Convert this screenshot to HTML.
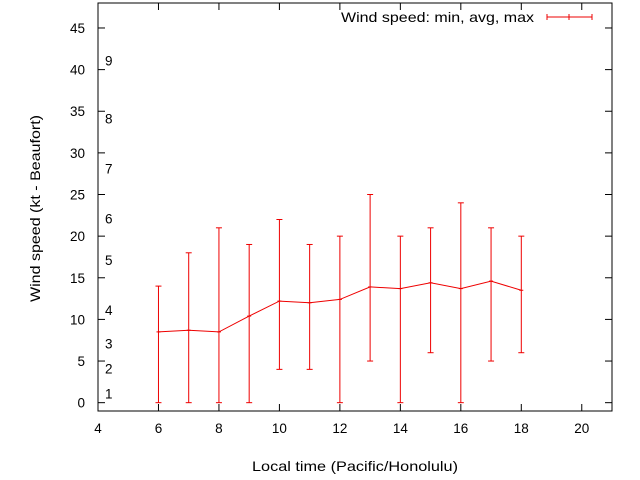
<!DOCTYPE html>
<html><head><meta charset="utf-8"><style>body{margin:0;background:#fff}svg{display:block;font-family:"Liberation Sans",sans-serif}</style></head>
<body>
<svg id="c" width="640" height="480"></svg>
<script>
const hours=[6,7,8,9,10,11,12,13,14,15,16,17,18];
const avgs=[8.5,8.7,8.5,10.4,12.2,12,12.4,13.9,13.7,14.4,13.7,14.6,13.5];
const mins=[0,0,0,0,4,4,0,5,0,6,0,5,6];
const maxs=[14,18,21,19,22,19,20,25,20,21,24,21,20];
const xTicks=[4,6,8,10,12,14,16,18,20];
const yTicks=[0,5,10,15,20,25,30,35,40,45];
const beaufortLevels=[1,4,7,11,17,22,28,34,41];
const beaufortLabels=["1","2","3","4","5","6","7","8","9"];
const L=98,R=612,T=3,B=411,x0=4,x1=21,y0=-1,y1=48;
const X=v=>L+(v-x0)/(x1-x0)*(R-L);
const Y=v=>B-(v-y0)/(y1-y0)*(B-T);
const svg=document.getElementById('c');
function mk(tag,attrs,name,text){const e=document.createElementNS('http://www.w3.org/2000/svg',tag);for(const k in attrs)e.setAttribute(k,attrs[k]);


if(text!==undefined)e.textContent=text;svg.appendChild(e);return e;}
mk('rect',{x:L,y:T,width:R-L,height:B-T,fill:'none',stroke:'#000','stroke-width':1},'plot-frame');
xTicks.forEach(t=>{const x=X(t);
mk('line',{x1:x,x2:x,y1:B,y2:B-7,stroke:'#000'},'x-tick');
mk('line',{x1:x,x2:x,y1:T,y2:T+7,stroke:'#000'},'x-tick-top');
mk('text',{x:x,y:B+22,'text-anchor':'middle','font-size':13.5},'x-tick-label',String(t));});
yTicks.forEach(t=>{const y=Y(t);
mk('line',{x1:L,x2:L+7,y1:y,y2:y,stroke:'#000'},'y-tick');
mk('line',{x1:R,x2:R-7,y1:y,y2:y,stroke:'#000'},'y-tick-right');
mk('text',{x:L-13,y:y+5,'text-anchor':'end','font-size':13.5},'y-tick-label',String(t));});
beaufortLevels.forEach((b,i)=>{mk('text',{x:105,y:Y(b)+4,'font-size':13.5},'beaufort-label',beaufortLabels[i]);});
mk('text',{x:252,y:471,'font-size':14,textLength:206,lengthAdjust:'spacingAndGlyphs'},'x-axis-title','Local time (Pacific/Honolulu)');
mk('text',{x:0,y:0,'font-size':14,textLength:187,lengthAdjust:'spacingAndGlyphs',transform:'translate(40 302) rotate(-90)'},'y-axis-title','Wind speed (kt - Beaufort)');
let d='';hours.forEach((h,i)=>{d+=(i?'L':'M')+X(h)+' '+Y(avgs[i]);});
mk('path',{d:d,fill:'none',stroke:'#e00','stroke-width':1},'avg-line');
hours.forEach((h,i)=>{const x=X(h);
mk('line',{x1:x,x2:x,y1:Y(mins[i]),y2:Y(maxs[i]),stroke:'#e00'},'error-bar');
mk('line',{x1:x-3,x2:x+3,y1:Y(mins[i]),y2:Y(mins[i]),stroke:'#e00'},'error-cap-min');
mk('line',{x1:x-3,x2:x+3,y1:Y(maxs[i]),y2:Y(maxs[i]),stroke:'#e00'},'error-cap-max');
mk('line',{x1:x-2,x2:x+2,y1:Y(avgs[i]),y2:Y(avgs[i]),stroke:'#e00'},'avg-point');});
mk('text',{x:341,y:22,'font-size':14,textLength:193,lengthAdjust:'spacingAndGlyphs'},'legend-label','Wind speed: min, avg, max');
mk('line',{x1:547,x2:592,y1:17,y2:17,stroke:'#e00'},'legend-sample');
[547,569,592].forEach(x=>mk('line',{x1:x,x2:x,y1:14,y2:20,stroke:'#e00'},'legend-sample-tick'));
</script>
</body></html>
